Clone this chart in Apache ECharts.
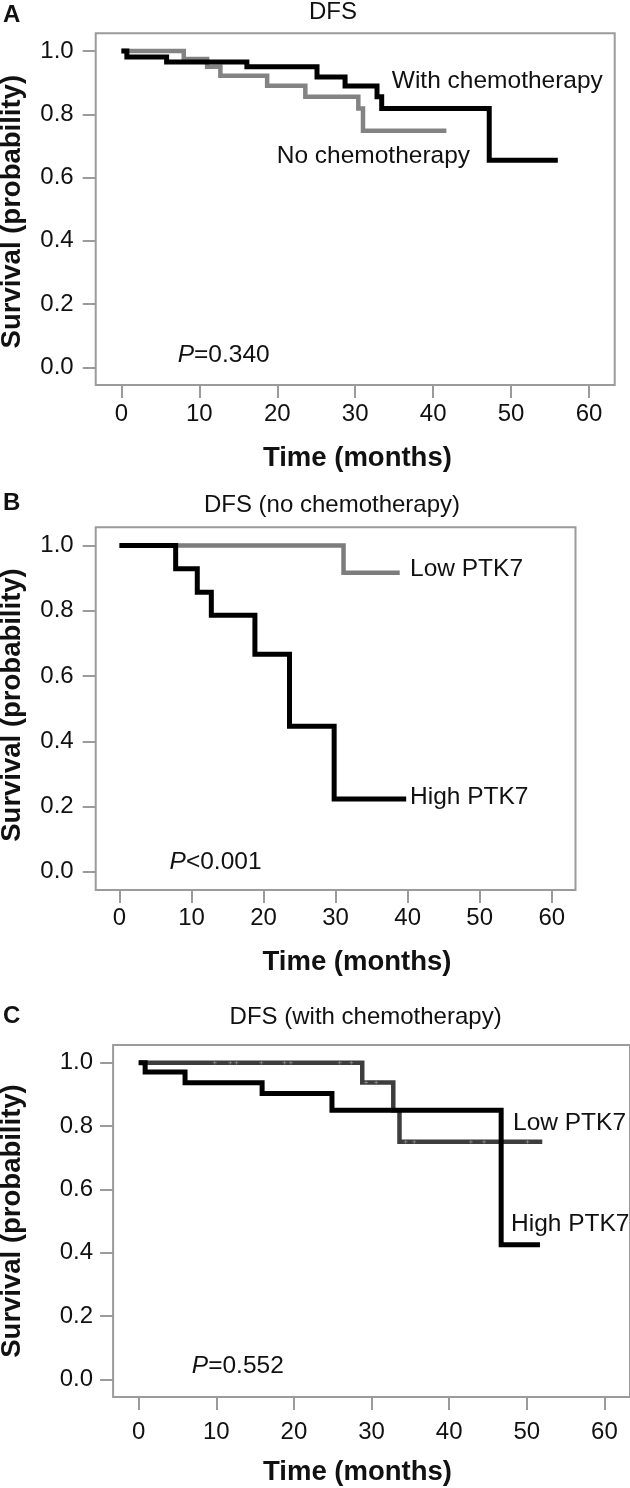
<!DOCTYPE html>
<html>
<head>
<meta charset="utf-8">
<script src="https://cdn.jsdelivr.net/npm/echarts@6/dist/echarts.min.js"></script>
<style>
  html, body { margin: 0; padding: 0; background: #fff; }
  #chart { width: 630px; height: 1488px; }
</style>
</head>
<body>
<div id="chart"></div>
<script>
// ---- tick labels ----
const xTickValues = [0, 10, 20, 30, 40, 50, 60];
const yTickValues = [0, 0.2, 0.4, 0.6, 0.8, 1.0];

// ---- Panel A: DFS ----
const aWithTime = [0, 0.7, 5.8, 16.1, 25.1, 28.7, 32.8, 33.4, 47.2, 56.0];
const aWithSurv = [1.0, 0.981, 0.965, 0.950, 0.918, 0.889, 0.855, 0.818, 0.655, 0.655];
const aNoTime = [0, 8.0, 11.0, 12.7, 18.7, 23.6, 30.4, 31.0, 41.7];
const aNoSurv = [1.0, 0.975, 0.950, 0.922, 0.890, 0.855, 0.818, 0.748, 0.748];

// ---- Panel B: DFS (no chemotherapy) ----
const bHighTime = [0, 7.8, 10.8, 12.75, 18.8, 23.6, 29.8, 39.8];
const bHighSurv = [1.0, 0.929, 0.857, 0.786, 0.667, 0.446, 0.223, 0.223];
const bLowTime = [0, 31.1, 38.9];
const bLowSurv = [1.0, 0.917, 0.917];

// ---- Panel C: DFS (with chemotherapy) ----
const cHighTime = [0, 0.83, 5.97, 15.9, 24.9, 46.7, 51.7];
const cHighSurv = [1.0, 0.971, 0.937, 0.903, 0.850, 0.425, 0.425];
const cLowTime = [0, 28.8, 32.8, 33.6, 52.0];
const cLowSurv = [1.0, 0.9375, 0.850, 0.750, 0.750];
const cCensorTime = [9.8, 11.8, 12.6, 15.8, 18.8, 19.6, 25.9, 27.4, 29.3, 30.6, 34.4, 35.5, 42.8, 44.5, 50.1];
const cCensorSurv = [1.0, 1.0, 1.0, 1.0, 1.0, 1.0, 1.0, 1.0, 0.9375, 0.9375, 0.75, 0.75, 0.75, 0.75, 0.75];

const zip = (t, s) => t.map((v, i) => [v, s[i]]);

const FONT = '"Liberation Sans", Arial, Helvetica, sans-serif';
const boxColor = '#9b9b9b';

function xAxis(gi, margin) {
  return {
    type: 'value', gridIndex: gi, min: -3.3, max: 63.3,
    axisLine: { show: false, onZero: false },
    splitLine: { show: false },
    axisTick: { show: true, inside: false, length: 13, customValues: xTickValues, lineStyle: { color: boxColor, width: 2 } },
    axisLabel: { customValues: xTickValues, margin: margin, color: '#111', fontSize: 24, fontFamily: FONT }
  };
}
function yAxis(gi, margin) {
  return {
    type: 'value', gridIndex: gi, min: -0.056, max: 1.056,
    axisLine: { show: false, onZero: false },
    splitLine: { show: false },
    axisTick: { show: true, inside: false, length: 13, customValues: yTickValues, lineStyle: { color: boxColor, width: 2 } },
    axisLabel: { customValues: yTickValues, margin: margin, color: '#111', fontSize: 24, fontFamily: FONT,
      formatter: v => v.toFixed(1) }
  };
}
function km(gi, data, color, width, z) {
  return {
    type: 'line', xAxisIndex: gi, yAxisIndex: gi, data: data, step: 'end',
    symbol: 'none', z: z, silent: true,
    lineStyle: { color: color, width: width, cap: 'butt', join: 'miter' }
  };
}
function txt(text, x, y, size, opts) {
  opts = opts || {};
  return {
    type: 'text', x: x, y: y, rotation: opts.rot || 0, z: 100,
    style: {
      text: text, fill: '#111',
      font: (opts.italic ? 'italic ' : '') + (opts.bold ? 'bold ' : '') + size + 'px ' + FONT,
      textAlign: opts.align || 'left', textVerticalAlign: 'middle'
    }
  };
}
function rich(parts, x, y, size) {
  return {
    type: 'text', x: x, y: y, z: 100,
    style: {
      text: '{i|' + parts[0] + '}{n|' + parts[1] + '}',
      textAlign: 'left', textVerticalAlign: 'middle',
      rich: {
        i: { fontStyle: 'italic', fontSize: size, fontFamily: FONT, fill: '#111', color: '#111' },
        n: { fontSize: size, fontFamily: FONT, fill: '#111', color: '#111' }
      }
    }
  };
}

const chart = echarts.init(document.getElementById('chart'), null, { renderer: 'canvas' });
chart.setOption({
  animation: false,
  backgroundColor: '#fff',
  grid: [
    { left: 95.7, right: 15.3, top: 33.3, height: 351.7, show: true, borderColor: boxColor, borderWidth: 2, containLabel: false },
    { left: 95.7, right: 54.5, top: 527.3, height: 362.7, show: true, borderColor: boxColor, borderWidth: 2, containLabel: false },
    { left: 113.1, right: -1.6, top: 1045, height: 352, show: true, borderColor: boxColor, borderWidth: 2, containLabel: false }
  ],
  xAxis: [xAxis(0, 17), xAxis(1, 16), xAxis(2, 23)],
  yAxis: [yAxis(0, 22), yAxis(1, 22), yAxis(2, 20)],
  series: [
    km(0, zip(aNoTime, aNoSurv), '#838383', 4.5, 2),
    km(0, zip(aWithTime, aWithSurv), '#000', 5, 3),
    km(1, zip(bLowTime, bLowSurv), '#7c7c7c', 4.5, 2),
    km(1, zip(bHighTime, bHighSurv), '#000', 5, 3),
    km(2, zip(cLowTime, cLowSurv), '#3d3d3d', 4.5, 2),
    km(2, zip(cHighTime, cHighSurv), '#000', 5, 3),
    {
      type: 'scatter', xAxisIndex: 2, yAxisIndex: 2, data: zip(cCensorTime, cCensorSurv),
      symbol: 'path://M2,0 L2,4 M0,2 L4,2', symbolSize: 4, z: 2.5, silent: true,
      itemStyle: { color: 'none', borderColor: '#9a9a9a', borderWidth: 0.8 }
    }
  ],
  graphic: [
    // panel letters
    txt('A', 3, 15.8, 24, { bold: true }),
    txt('B', 3, 503, 24, { bold: true }),
    txt('C', 3, 1016.7, 24, { bold: true }),
    // titles
    txt('DFS', 333, 12.5, 24, { align: 'center' }),
    txt('DFS (no chemotherapy)', 332, 505, 24, { align: 'center' }),
    txt('DFS (with chemotherapy)', 365.6, 1017, 24, { align: 'center' }),
    // axis names
    txt('Time (months)', 357.4, 458, 27.5, { bold: true, align: 'center' }),
    txt('Time (months)', 357, 962, 27.5, { bold: true, align: 'center' }),
    txt('Time (months)', 357.5, 1472, 27.5, { bold: true, align: 'center' }),
    txt('Survival (probability)', 12, 211.7, 27.5, { bold: true, align: 'center', rot: Math.PI / 2 }),
    txt('Survival (probability)', 12, 705, 27.5, { bold: true, align: 'center', rot: Math.PI / 2 }),
    txt('Survival (probability)', 12, 1221, 27.5, { bold: true, align: 'center', rot: Math.PI / 2 }),
    // annotations
    txt('With chemotherapy', 391.8, 81, 24.5),
    txt('No chemotherapy', 276.7, 156, 24.5),
    rich(['P', '=0.340'], 177.7, 355, 24.5),
    txt('Low PTK7', 410, 569.5, 24.5),
    txt('High PTK7', 410, 797.7, 24.5),
    rich(['P', '<0.001'], 169.6, 862.5, 24.5),
    txt('Low PTK7', 513, 1123.3, 24.5),
    txt('High PTK7', 511, 1224, 24.5),
    rich(['P', '=0.552'], 191.8, 1366, 24.5)
  ]
});
</script>
</body>
</html>
